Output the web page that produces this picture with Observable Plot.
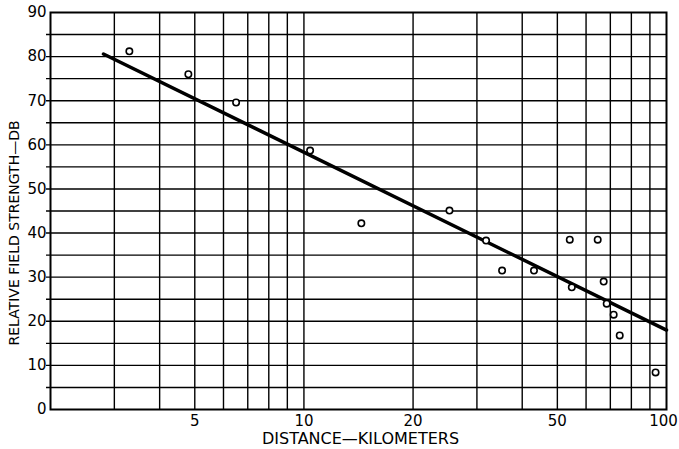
<!DOCTYPE html>
<html><head><meta charset="utf-8">
<script src="https://cdn.jsdelivr.net/npm/d3@7"></script>
<script src="https://cdn.jsdelivr.net/npm/@observablehq/plot@0.6"></script>
<style>body{margin:0;background:#fff}</style>
</head><body><div id="chart"></div>
<script>
// Measured field strength versus distance
const distanceKm = [3.3, 4.8, 6.5, 10.4, 14.4, 25.2, 31.8, 35.2, 43.1, 54.1, 64.6, 54.8, 67.1, 68.4, 71.5, 74.3, 93.3];
const strengthDb = [81.2, 76.0, 69.6, 58.7, 42.2, 45.1, 38.3, 31.5, 31.5, 38.5, 38.5, 27.7, 29.0, 24.0, 21.5, 16.8, 8.4];

// Fitted straight line (on log distance)
const fitDistance = [2.8, 100];
const fitStrength = [80.6, 18.0];

// Grid and tick values
const xGrid = [3, 4, 5, 6, 7, 8, 9, 10, 20, 30, 40, 50, 60, 70, 80, 90];
const xTicks = [5, 10, 20, 50, 100];
const yGrid = [5, 10, 15, 20, 25, 30, 35, 40, 45, 50, 55, 60, 65, 70, 75, 80, 85];
const yTicks = [0, 10, 20, 30, 40, 50, 60, 70, 80, 90];

const xTitle = "DISTANCE\u2014KILOMETERS";
const yTitle = "RELATIVE FIELD STRENGTH\u2014DB";

const points = distanceKm.map((d, i) => ({distance: d, db: strengthDb[i]}));
const fit = fitDistance.map((d, i) => ({distance: d, db: fitStrength[i]}));

// the last tick sits on the right edge, so nudge its label inward
const edgeTick = xTicks[xTicks.length - 1];
const innerTicks = xTicks.filter(d => d !== edgeTick);

const chart = Plot.plot({
  width: 679,
  height: 449,
  marginLeft: 50,
  marginRight: 13,
  marginTop: 12,
  marginBottom: 40,
  style: {fontFamily: "DejaVu Sans, sans-serif", fontSize: "15px", color: "#000", background: "#fff"},
  x: {type: "log", domain: [2, 100]},
  y: {domain: [0, 90]},
  marks: [
    Plot.ruleX(xGrid, {stroke: "#000", strokeWidth: 1.4}),
    Plot.ruleY(yGrid, {x1: 1.95, x2: 100, stroke: "#000", strokeWidth: 1.4}),
    Plot.frame({stroke: "#000", strokeWidth: 2}),
    Plot.line(fit, {x: "distance", y: "db", stroke: "#000", strokeWidth: 3.5}),
    Plot.dot(points, {x: "distance", y: "db", r: 3.2, stroke: "#000", strokeWidth: 1.6, fill: "#fff"}),
    Plot.axisX({ticks: innerTicks, tickSize: 0, tickPadding: 6, fontSize: 15, tickFormat: d => String(d), label: null}),
    Plot.axisX({ticks: [edgeTick], tickSize: 0, tickPadding: 6, fontSize: 15, dx: -3, tickFormat: d => String(d), label: null}),
    Plot.axisY({ticks: yTicks, tickSize: 0, tickPadding: 4, fontSize: 15, tickFormat: d => String(d), label: null}),
    Plot.text([xTitle], {frameAnchor: "bottom", dy: 34, dx: 2, fontSize: 16, text: d => d}),
    Plot.text([yTitle], {frameAnchor: "left", textAnchor: "middle", dx: -36, dy: 22, rotate: -90, fontSize: 14, text: d => d})
  ]
});
document.getElementById("chart").appendChild(chart);
</script>
</body></html>
